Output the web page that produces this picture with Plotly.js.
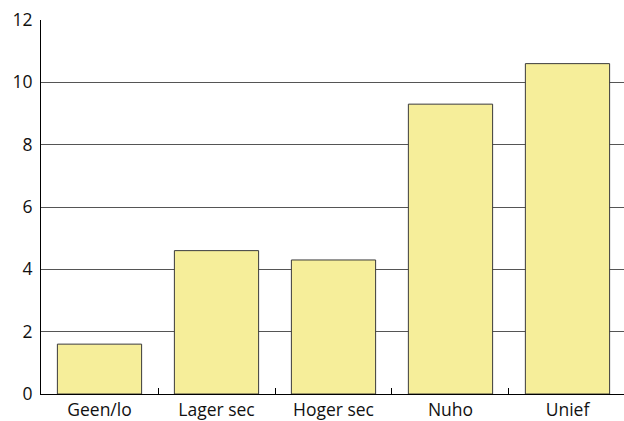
<!DOCTYPE html>
<html>
<head>
<meta charset="utf-8">
<script src="https://cdn.plot.ly/plotly-3.0.1.min.js"></script>
<style>html,body{margin:0;padding:0;background:#fff;}#chart{width:624px;height:421px;}</style>
</head>
<body>
<div id="chart"></div>
<script>
var categories = ["Geen/lo", "Lager sec", "Hoger sec", "Nuho", "Unief"];
var values = [1.6, 4.6, 4.3, 9.3, 10.6];
var yTicks = [0, 2, 4, 6, 8, 10, 12];

var trace = {
  type: "bar",
  x: categories,
  y: values,
  marker: {color: "#f6ee9a", line: {color: "#3a3a3a", width: 1}},
  hoverinfo: "none"
};

var layout = {
  width: 624, height: 421,
  margin: {l: 41, r: 0, t: 20, b: 27, pad: 0},
  paper_bgcolor: "#fff", plot_bgcolor: "#fff",
  showlegend: false,
  bargap: 0.28,
  font: {family: "Open Sans, sans-serif", size: 18, color: "#111"},
  xaxis: {
    type: "category",
    range: [-0.5, 4.483],
    showline: true, linecolor: "#000", linewidth: 1,
    ticks: "inside", tickson: "boundaries", ticklen: 6, tickcolor: "#000",
    showgrid: false, zeroline: false,
    ticklabelstandoff: 0,
    tickfont: {family: "Open Sans, sans-serif", size: 17.5, color: "#111"}
  },
  yaxis: {
    range: [0, 12],
    tickvals: yTicks,
    showline: true, linecolor: "#000", linewidth: 1,
    ticks: "", showgrid: true, gridcolor: "#555", gridwidth: 1,
    zeroline: false,
    ticklabelstandoff: 4,
    tickfont: {family: "Open Sans, sans-serif", size: 17.5, color: "#111"}
  }
};

Plotly.newPlot("chart", [trace], layout, {staticPlot: true, displayModeBar: false});
</script>
</body>
</html>
